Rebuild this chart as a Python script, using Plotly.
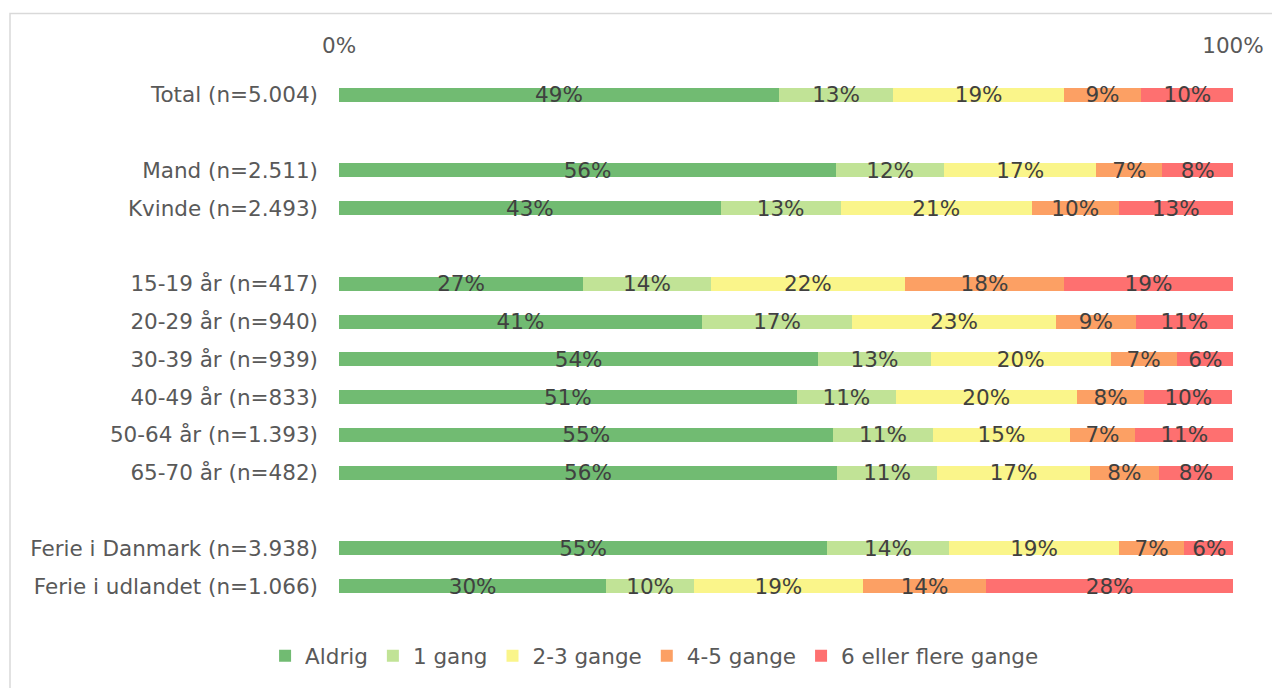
import plotly.graph_objects as go

# Row labels in display order; "" marks an empty spacer row
rows = ["Total (n=5.004)", "",
        "Mand (n=2.511)", "Kvinde (n=2.493)", "",
        "15-19 år (n=417)", "20-29 år (n=940)", "30-39 år (n=939)",
        "40-49 år (n=833)", "50-64 år (n=1.393)", "65-70 år (n=482)", "",
        "Ferie i Danmark (n=3.938)", "Ferie i udlandet (n=1.066)"]

categories = [r for r in rows if r]

series_names = ["Aldrig", "1 gang", "2-3 gange", "4-5 gange", "6 eller flere gange"]
colors = ["#71bb72", "#c1e396", "#faf58a", "#fca064", "#fe7070"]

aldrig = [49.2, 55.6, 42.7, 27.3, 40.6, 53.6, 51.2, 55.3, 55.7, 54.6, 29.9]
en_gang = [12.8, 12.1, 13.4, 14.3, 16.8, 12.6, 11.1, 11.1, 11.2, 13.6, 9.8]
to_tre = [19.1, 17.0, 21.4, 21.7, 22.8, 20.1, 20.2, 15.4, 17.1, 19.1, 18.9]
fire_fem = [8.6, 7.4, 9.7, 17.8, 8.9, 7.4, 7.6, 7.2, 7.7, 7.2, 13.8]
seks_plus = [10.4, 7.9, 12.8, 18.9, 10.9, 6.4, 9.8, 11.1, 8.3, 5.7, 27.6]
values = [aldrig, en_gang, to_tre, fire_fem, seks_plus]

x_ticks = [0, 100]
x_ticktext = ["0%", "100%"]

ypos = {r: i for i, r in enumerate(rows) if r}
yvals = [ypos[c] for c in categories]

FONT = "DejaVu Sans"
FS = 21.5

fig = go.Figure()
for name, col, vals in zip(series_names, colors, values):
    fig.add_trace(go.Bar(
        y=yvals, x=vals, name=name, orientation="h",
        marker=dict(color=col, line=dict(width=0)),
        width=0.37,
        text=[f"{v:.0f}%" for v in vals],
        textposition="inside", insidetextanchor="middle",
        constraintext="none",
        textfont=dict(color="#404040", size=FS, family=FONT),
        hoverinfo="skip",
    ))

fig.update_layout(
    barmode="stack",
    width=1272, height=680,
    paper_bgcolor="white", plot_bgcolor="white",
    margin=dict(l=331, r=47, t=68, b=80),
    font=dict(family=FONT, size=FS, color="#595959"),
    xaxis=dict(range=[0, 100], side="top", tickvals=x_ticks, ticktext=x_ticktext,
               showgrid=True, gridcolor="#d9d9d9", gridwidth=1.5,
               zeroline=False, showline=False, ticks="", ticklabelstandoff=18,
               tickfont=dict(size=FS, color="#595959")),
    yaxis=dict(range=[len(rows) - 0.5, -0.5], tickvals=yvals, ticktext=categories,
               showgrid=False, zeroline=False, showline=False, ticks="",
               ticklabelstandoff=20,
               tickfont=dict(size=FS, color="#595959")),
    legend=dict(orientation="h", x=0.353, xanchor="center", y=-0.096, yanchor="middle",
                font=dict(size=FS, color="#595959"), traceorder="normal",
                itemwidth=30, tracegroupgap=0),
    showlegend=True,
    shapes=[dict(type="rect", xref="paper", yref="paper",
                 x0=-0.368, x1=1.6, y0=-0.5, y1=1.118,
                 line=dict(color="#d9d9d9", width=1.5), fillcolor="rgba(0,0,0,0)",
                 layer="below")],
)

fig.write_html("out.html")
